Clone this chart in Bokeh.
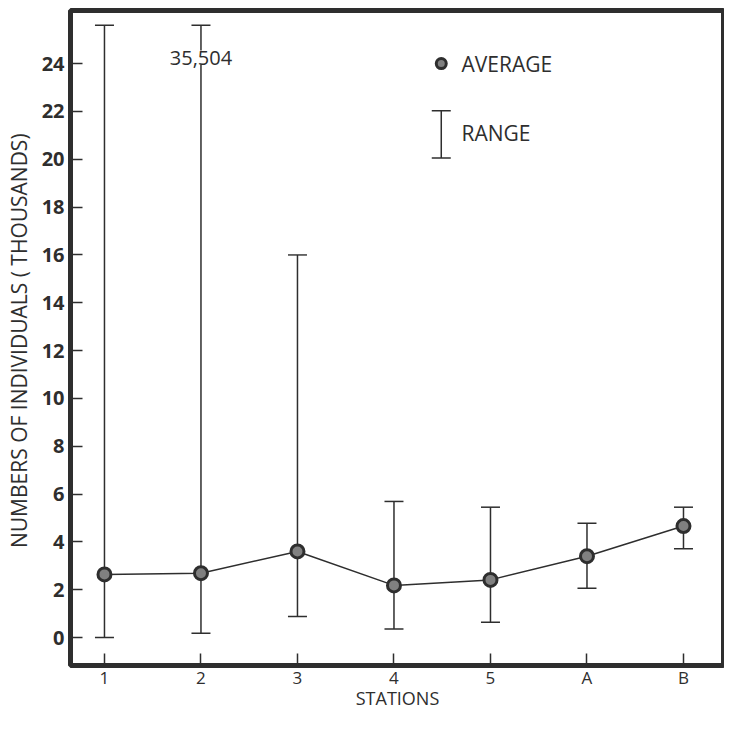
from bokeh.plotting import figure
from bokeh.models import (ColumnDataSource, Whisker, TeeHead, Label, Range1d,
                          FixedTicker)
from bokeh.embed import file_html
from bokeh.resources import INLINE

# ---- data (thousands of individuals) ----
stations = ["1", "2", "3", "4", "5", "A", "B"]
average = [2.64, 2.69, 3.60, 2.18, 2.41, 3.40, 4.66]
range_low = [0.00, 0.18, 0.88, 0.36, 0.64, 2.06, 3.71]
range_high = [25.6, 25.6, 16.0, 5.69, 5.45, 4.78, 5.45]   # station 2 truncated
off_scale_note = "35,504"
y_ticks = [0, 2, 4, 6, 8, 10, 12, 14, 16, 18, 20, 22, 24]

FONT = "Open Sans"
INK = "#2e2e2e"

xs = list(range(1, len(stations) + 1))
src = ColumnDataSource(dict(x=xs, avg=average, lo=range_low, hi=range_high))

p = figure(width=724, height=716, output_backend="svg", toolbar_location=None,
           x_range=Range1d(0.648, 7.425), y_range=Range1d(-1.17, 26.22),
           min_border_left=70, min_border_right=0, min_border_top=10,
           min_border_bottom=51)
p.background_fill_color = "white"
p.border_fill_color = "white"
p.outline_line_color = INK
p.outline_line_width = 5
p.xgrid.visible = False
p.ygrid.visible = False

# axes
p.xaxis.ticker = FixedTicker(ticks=xs)
p.xaxis.major_label_overrides = {x: s for x, s in zip(xs, stations)}
p.yaxis.ticker = FixedTicker(ticks=y_ticks)
for ax in (p.xaxis[0], p.yaxis[0]):
    ax.axis_line_color = None
    ax.major_tick_in = 12
    ax.major_tick_out = 0
    ax.minor_tick_line_color = None
    ax.major_tick_line_color = INK
    ax.major_tick_line_width = 1.5
    ax.major_label_text_font = FONT
    ax.major_label_text_color = INK
    ax.axis_label_text_font = FONT
    ax.axis_label_text_color = INK
    ax.axis_label_text_font_style = "normal"

p.yaxis.major_label_text_font_style = "bold"
p.yaxis.major_label_text_font_size = "20px"
p.yaxis.major_label_standoff = 6
p.yaxis.axis_label = "NUMBERS OF  INDIVIDUALS ( THOUSANDS)"
p.yaxis.axis_label_text_font_size = "21px"
p.yaxis.axis_label_standoff = 6

p.xaxis.major_label_text_font_size = "17px"
p.xaxis.major_label_standoff = 0
p.xaxis.axis_label = "STATIONS"
p.xaxis.axis_label_text_font_size = "18px"
p.xaxis.axis_label_standoff = -6

# range bars
def tee():
    return TeeHead(size=19, line_color=INK, line_width=1.5)

w = Whisker(base="x", lower="lo", upper="hi", source=src, dimension="height",
            line_color=INK, line_width=1.5, upper_head=tee(), lower_head=tee())
p.add_layout(w)

# averages
p.line("x", "avg", source=src, line_color=INK, line_width=1.5)
p.scatter("x", "avg", source=src, size=13, fill_color="#808080",
          line_color=INK, line_width=3)

# off-scale note for station 2
p.add_layout(Label(x=xs[1], y=24.25, text=off_scale_note, text_align="center",
                   text_baseline="middle", text_font=FONT, text_font_size="20px",
                   text_color=INK, background_fill_color="white",
                   border_line_color=None))

# legend
lx, ltx = 4.49, 4.70
p.scatter([lx], [24.0], size=10, fill_color="#808080", line_color=INK,
          line_width=3)
p.add_layout(Label(x=ltx, y=24.0, text="AVERAGE", text_baseline="middle",
                   text_font=FONT, text_font_size="21px", text_color=INK))
leg_src = ColumnDataSource(dict(x=[lx], lo=[20.05], hi=[22.03]))
p.add_layout(Whisker(base="x", lower="lo", upper="hi", source=leg_src,
                     dimension="height", line_color=INK, line_width=1.5,
                     upper_head=tee(), lower_head=tee()))
p.add_layout(Label(x=ltx, y=21.1, text="RANGE", text_baseline="middle",
                   text_font=FONT, text_font_size="21px", text_color=INK))

open("out.html", "w").write(file_html(p, INLINE))
